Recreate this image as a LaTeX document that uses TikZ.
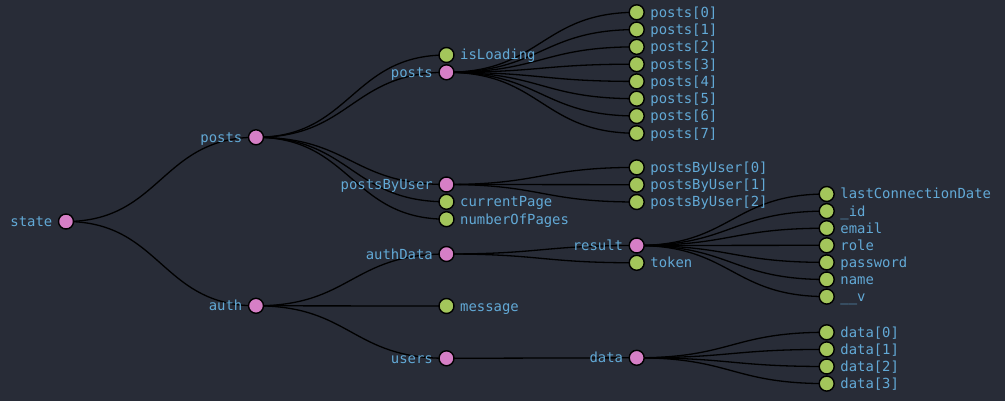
\documentclass[tikz,border=0pt]{standalone}
\usepackage{fontspec}
\setmonofont{DejaVu Sans Mono}
\usetikzlibrary{calc}
\definecolor{bgc}{HTML}{282C37}
\definecolor{pinkc}{HTML}{D67FC6}
\definecolor{greenc}{HTML}{A3C65B}
\definecolor{txtc}{HTML}{62A9D6}
\pgfdeclarelayer{bglayer}
\pgfdeclarelayer{edges}
\pgfsetlayers{bglayer,edges,main}
\newcommand\pnd[4]{\node[pdot] (#1) at (#2,#3) {}; \node[ltxt] (#1-t) at (#2-13.5,#3+5) {#4};}
\newcommand\gnd[4]{\node[gdot] (#1) at (#2,#3) {}; \node[rtxt] (#1-t) at (#2+13.5,#3+5) {#4};}
\newcommand\lk[2]{\draw[lnk] let \p1=(#1.center),\p2=(#2.center) in (\p1) .. controls ({(\x1+\x2)/2},\y1) and ({(\x1+\x2)/2},\y2) .. (\p2);}
\begin{document}
\begin{tikzpicture}[x=1pt,y=-1pt,
  dot/.style={circle,draw=black,line width=1.4pt,minimum size=15pt,inner sep=0pt},
  pdot/.style={dot,fill=pinkc},
  gdot/.style={dot,fill=greenc},
  txt/.style={font=\ttfamily\fontsize{13.9}{16}\selectfont,text=txtc,inner sep=0pt},
  ltxt/.style={txt,anchor=base east},
  rtxt/.style={txt,anchor=base west},
  lnk/.style={draw=black,line width=1.3pt}]
\begin{pgfonlayer}{bglayer}
\fill[bgc] (0,0) rectangle (1005,401);
\end{pgfonlayer}
\pnd{state}{66}{221.5}{state}
\pnd{posts}{256}{137.3}{posts}
\pnd{auth}{256}{305.8}{auth}
\gnd{isLoading}{446.5}{55}{isLoading}
\pnd{pposts}{446.5}{72.3}{posts}
\pnd{pbu}{446.5}{184.5}{postsByUser}
\gnd{cur}{446.5}{201.8}{currentPage}
\gnd{nop}{446.5}{219.2}{numberOfPages}
\pnd{authData}{446.5}{254}{authData}
\gnd{message}{446.5}{306}{message}
\pnd{users}{446.5}{358.3}{users}
\foreach \i in {0,...,7} {\gnd{p\i}{636.7}{12.3+17.28*\i}{posts[\i]}}
\foreach \i in {0,1,2} {\gnd{u\i}{636.7}{167.4+17.3*\i}{postsByUser[\i]}}
\pnd{result}{636.7}{245.5}{result}
\gnd{token}{636.7}{262.8}{token}
\pnd{data}{636.7}{357.8}{data}
\gnd{r0}{826.7}{194}{lastConnectionDate}
\gnd{r1}{826.7}{211.1}{\_id}
\gnd{r2}{826.7}{228.2}{email}
\gnd{r3}{826.7}{245.3}{role}
\gnd{r4}{826.7}{262.4}{password}
\gnd{r5}{826.7}{279.5}{name}
\gnd{r6}{826.7}{296.6}{\_\_v}
\foreach \i in {0,...,3} {\gnd{d\i}{826.7}{332.3+17.1*\i}{data[\i]}}
\begin{pgfonlayer}{edges}
\lk{state}{posts}
\lk{state}{auth}
\foreach \c in {isLoading,pposts,pbu,cur,nop} {\lk{posts}{\c}}
\foreach \i in {0,...,7} {\lk{pposts}{p\i}}
\foreach \i in {0,1,2} {\lk{pbu}{u\i}}
\foreach \c in {authData,message,users} {\lk{auth}{\c}}
\lk{authData}{result}
\lk{authData}{token}
\foreach \i in {0,...,6} {\lk{result}{r\i}}
\lk{users}{data}
\foreach \i in {0,...,3} {\lk{data}{d\i}}
\end{pgfonlayer}
\end{tikzpicture}
\end{document}
